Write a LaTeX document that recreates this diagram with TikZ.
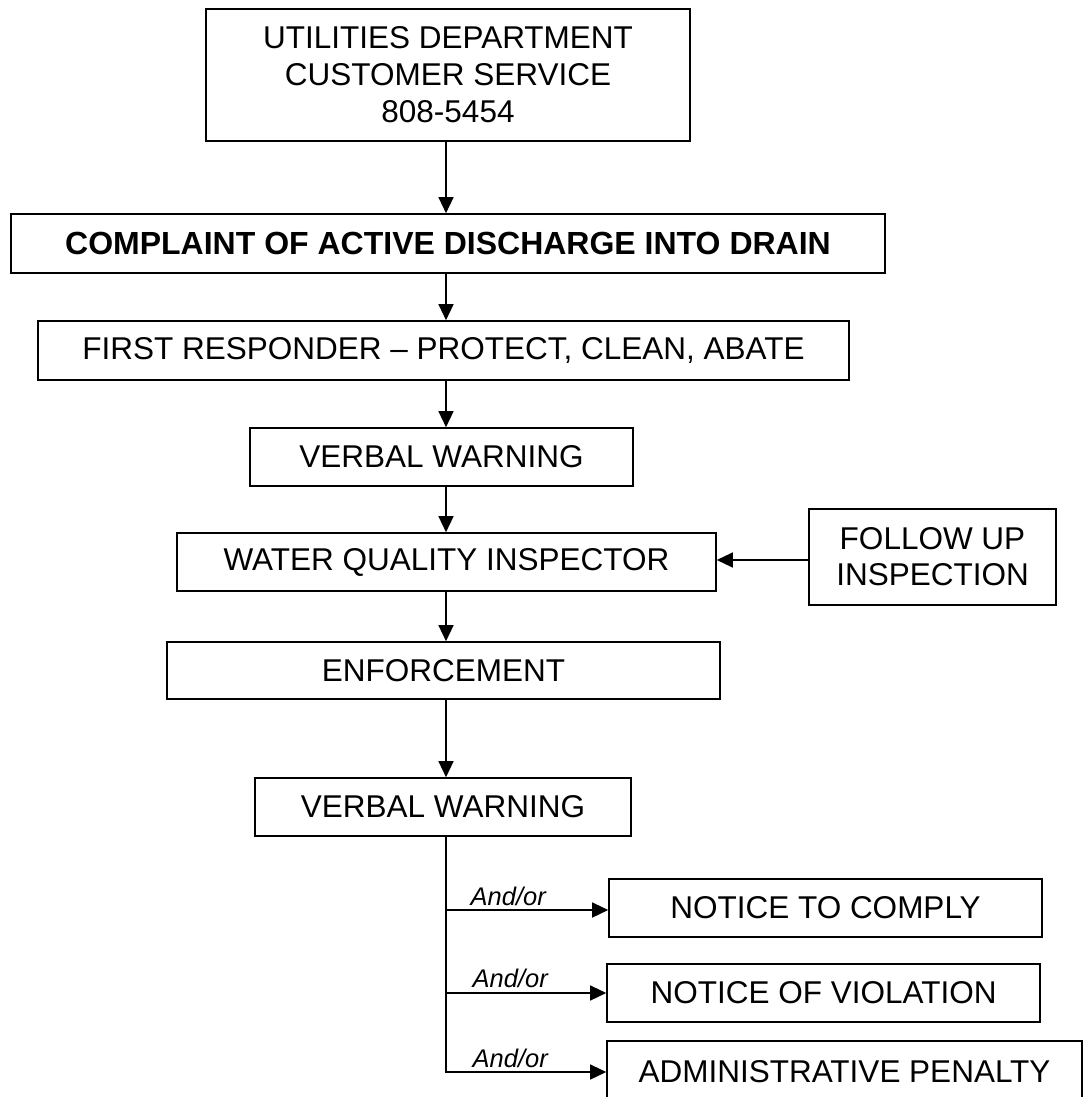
\documentclass[tikz,border=0pt]{standalone}
\usepackage{fontspec}
\setmainfont{Liberation Sans}
\usetikzlibrary{arrows.meta}
\begin{document}
\begin{tikzpicture}[x=1pt,y=-1pt,
  box/.style={draw, line width=1.6pt, rectangle, inner sep=0pt, align=center,
    font=\fontsize{31.5}{37}\selectfont},
  arr/.style={line width=1.3pt, -{Triangle[length=16pt,width=15pt]}},
  lbl/.style={font=\fontsize{25.5}{30}\selectfont\itshape, inner sep=0pt, anchor=base west}]
\useasboundingbox (0,0) rectangle (1083,1097);
\coordinate (ax) at (446,0);
\coordinate (fy) at (0,560);
\coordinate (b1) at (446,910);
\coordinate (b2) at (446,993);
\coordinate (b3) at (446,1072);

\node[box, minimum width=484pt, minimum height=132pt] (n1) at (448,75)
  {UTILITIES DEPARTMENT\\CUSTOMER SERVICE\\808-5454};
\node[box, minimum width=874pt, minimum height=59pt, font=\fontsize{32}{37}\selectfont\bfseries] (n2) at (448,243.5)
  {COMPLAINT OF ACTIVE DISCHARGE INTO DRAIN};
\node[box, minimum width=811pt, minimum height=59pt] (n3) at (443.5,350.5)
  {FIRST RESPONDER -- PROTECT, CLEAN, ABATE};
\node[box, minimum width=383pt, minimum height=58pt] (n4) at (441.5,457)
  {VERBAL WARNING};
\node[box, minimum width=539pt, minimum height=58pt] (n5) at (446.5,562)
  {WATER QUALITY INSPECTOR};
\node[box, minimum width=247pt, minimum height=96pt, font=\fontsize{31.5}{36}\selectfont] (n6) at (932.5,557)
  {FOLLOW UP\\INSPECTION};
\node[box, minimum width=553pt, minimum height=57pt] (n7) at (443.5,670.5)
  {ENFORCEMENT};
\node[box, minimum width=376pt, minimum height=58pt] (n8) at (443,807)
  {VERBAL WARNING};
\node[box, minimum width=433pt, minimum height=58pt] (n9) at (825.5,908)
  {NOTICE TO COMPLY};
\node[box, minimum width=433pt, minimum height=58pt] (n10) at (823.5,993)
  {NOTICE OF VIOLATION};
\node[box, minimum width=475pt, minimum height=62pt] (n11) at (844.5,1072)
  {ADMINISTRATIVE PENALTY};

\draw[arr] (n1.south -| ax) -- (n2.north -| ax);
\draw[arr] (n2.south -| ax) -- (n3.north -| ax);
\draw[arr] (n3.south -| ax) -- (n4.north -| ax);
\draw[arr] (n4.south -| ax) -- (n5.north -| ax);
\draw[arr] (n5.south -| ax) -- (n7.north -| ax);
\draw[arr] (n7.south -| ax) -- (n8.north -| ax);
\draw[arr] (n6.west |- fy) -- (n5.east |- fy);

\draw[arr] (n8.south -| ax) |- (b3 -| n11.west)
  node[lbl, pos=0.5, xshift=26pt, yshift=5pt] {And/or};
\draw[arr] (b1) -- (b1 -| n9.west)
  node[lbl, pos=0, xshift=24pt, yshift=5pt] {And/or};
\draw[arr] (b2) -- (b2 -| n10.west)
  node[lbl, pos=0, xshift=26pt, yshift=6pt] {And/or};
\end{tikzpicture}
\end{document}
